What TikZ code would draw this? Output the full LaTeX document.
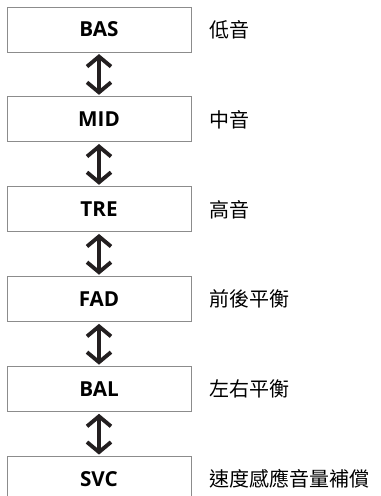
\documentclass[tikz,border=0pt]{standalone}
\usepackage{fontspec}
\setsansfont{Open Sans}
\newfontfamily\cjk{Noto Sans CJK TC}
\usetikzlibrary{positioning, arrows.meta}
\definecolor{boxgray}{HTML}{8C8C8C}
\definecolor{arrowdark}{HTML}{231F20}

\begin{document}
\begin{tikzpicture}[
    x=0.75pt, y=-0.75pt,
    node distance=33pt and 13.5pt,
    mode/.style={rectangle, draw=boxgray, line width=0.7pt, minimum width=138pt, minimum height=33.75pt, inner sep=0pt, font=\sffamily\bfseries\fontsize{15.5}{17}\selectfont, text=black},
    desc/.style={inner sep=0pt, font=\cjk\fontsize{15}{18}\selectfont, text=black},
    arrow/.style={{Straight Barb[length=7.5pt, width=18pt]}-{Straight Barb[length=7.5pt, width=18pt]}, line width=2.9pt, draw=arrowdark, shorten <=1.2pt, shorten >=1.2pt}
]
\useasboundingbox (0,0) rectangle (381,496);

% Mode boxes
\node[mode] (bas) at (99,29.5) {BAS};
\node[mode, below=of bas] (mid) {MID};
\node[mode, below=of mid] (tre) {TRE};
\node[mode, below=of tre] (fad) {FAD};
\node[mode, below=of fad] (bal) {BAL};
\node[mode, below=of bal] (svc) {SVC};

% Descriptions
\node[desc, right=of bas] (basl) {低音};
\node[desc, right=of mid] (midl) {中音};
\node[desc, right=of tre] (trel) {高音};
\node[desc, right=of fad] (fadl) {前後平衡};
\node[desc, right=of bal] (ball) {左右平衡};
\node[desc, right=of svc] (svcl) {速度感應音量補償};

% Arrows between modes
\draw[arrow] (bas) -- (mid);
\draw[arrow] (mid) -- (tre);
\draw[arrow] (tre) -- (fad);
\draw[arrow] (fad) -- (bal);
\draw[arrow] (bal) -- (svc);

\end{tikzpicture}
\end{document}
